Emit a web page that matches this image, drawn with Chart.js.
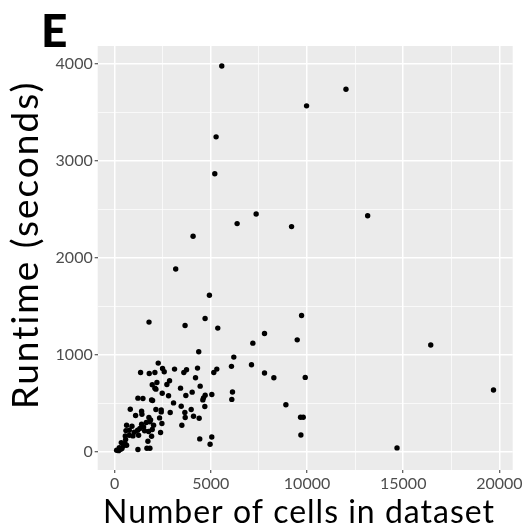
<!DOCTYPE html>
<html>
<head>
<meta charset="utf-8">
<script src="https://cdn.jsdelivr.net/npm/chart.js@4"></script>
<style>
  html, body { margin: 0; padding: 0; background: #fff; }
  #wrap { width: 526px; height: 532px; }
</style>
</head>
<body>
<div id="wrap"><canvas id="chart" width="526" height="532"></canvas></div>
<script>
// values
const cells = [
  5569, 12024, 9976, 5274, 5205, 7356, 13151, 6367, 9196, 4077, 3175, 4927, 9716, 1787, 4702, 3661,
  5361, 7790, 9490, 7183, 16430, 4372, 6194, 7114, 6073, 7790, 8276, 9907, 19692, 6125, 6090, 8901,
  9664, 9803, 9681, 14678, 5049, 4962, 4424,
  2266, 1349, 1799, 2093, 2491, 2578, 3114, 3598, 3737, 4308, 4204, 5155, 5311, 1955, 2197, 2093,
  2145, 2855, 2716, 2474, 3425, 4031, 4446, 3702, 4619, 4585, 4706, 5052, 4688, 2803, 1211, 1471,
  1920, 1972, 3062, 3460, 813, 1401, 2145, 2422, 2422, 2889, 3650, 3979, 3668, 4100, 4394, 1090,
  1419, 1782, 1868, 2336, 2457, 3495, 623, 900, 1401, 1644, 1834, 2024, 1505, 588, 761, 1021,
  1194, 1315, 1557, 1765, 1955, 2387, 554, 761, 951, 1246, 1920, 1730, 571, 346, 536, 623,
  450, 242, 104, 208, 311, 380, 1211, 1678, 1834
];
const runtimes = [
  3982, 3742, 3570, 3250, 2869, 2453, 2436, 2354, 2323, 2223, 1886, 1615, 1405, 1337, 1374, 1302,
  1275, 1220, 1154, 1120, 1100, 1031, 976, 897, 880, 811, 763, 766, 636, 615, 539, 484,
  354, 354, 172, 38, 151, 76, 131,
  914, 817, 807, 817, 859, 824, 852, 817, 845, 862, 762, 817, 852, 690, 714, 655,
  645, 731, 693, 603, 655, 614, 676, 579, 555, 534, 583, 590, 465, 576, 552, 548,
  534, 527, 503, 469, 438, 417, 434, 431, 410, 403, 403, 434, 352, 365, 345, 372,
  386, 352, 328, 348, 290, 272, 272, 262, 283, 300, 307, 272, 255, 217, 221, 200,
  221, 238, 214, 207, 228, 197, 162, 169, 162, 169, 159, 107, 124, 93, 83, 66,
  59, 41, 14, 10, 24, 31, 21, 34, 34
];

const xMajor = [0, 5000, 10000, 15000, 20000];
const xMinor = [2500, 7500, 12500, 17500];
const yMajor = [0, 1000, 2000, 3000, 4000];
const yMinor = [500, 1500, 2500, 3500];

const panelLabel = 'E';
const xTitle = 'Number of cells in dataset';
const yTitle = 'Runtime (seconds)';

const points = cells.map((c, i) => ({x: c, y: runtimes[i]}));

const tickFont = {family: 'Lato', size: 16};
const tickGrey = '#4D4D4D';

function gridFor(major) {
  return {
    color: '#FFFFFF',
    lineWidth: ctx => major.includes(ctx.tick.value) ? 1.5 : 0.7,
    drawTicks: true,
    tickLength: 3,
    tickWidth: 1,
    tickColor: ctx => major.includes(ctx.tick.value) ? '#333333' : 'rgba(0,0,0,0)'
  };
}

// grey panel like ggplot, and text drawn at fixed spots
const panelPlugin = {
  id: 'panel',
  beforeDraw(chart) {
    const {ctx, chartArea: a} = chart;
    ctx.save();
    ctx.fillStyle = '#FFFFFF';
    ctx.fillRect(0, 0, chart.width, chart.height);
    ctx.fillStyle = '#EBEBEB';
    ctx.fillRect(a.left, a.top, a.right - a.left, a.bottom - a.top);
    ctx.restore();
  },
  afterDraw(chart) {
    const ctx = chart.ctx;
    ctx.save();
    ctx.fillStyle = '#000000';
    ctx.textBaseline = 'alphabetic';

    ctx.font = '900 46px Lato';
    ctx.textAlign = 'left';
    ctx.fillText(panelLabel, 41, 47);

    ctx.font = '32px Lato';
    ctx.letterSpacing = '1px';
    ctx.textAlign = 'center';
    ctx.fillText(xTitle, 299, 523);

    ctx.translate(38, 245);
    ctx.rotate(-Math.PI / 2);
    ctx.font = '37px Lato';
    ctx.letterSpacing = '2px';
    ctx.fillText(yTitle, 0, 0);
    ctx.restore();
  }
};

new Chart(document.getElementById('chart'), {
  type: 'scatter',
  data: {
    datasets: [{
      data: points,
      backgroundColor: '#000000',
      borderWidth: 0,
      pointRadius: 2.7,
      pointHoverRadius: 2.7
    }]
  },
  options: {
    responsive: false,
    animation: false,
    events: [],
    layout: {padding: {top: 46, right: 13.3, left: 0, bottom: 0}},
    plugins: {legend: {display: false}, tooltip: {enabled: false}},
    scales: {
      x: {
        type: 'linear',
        min: -880,
        max: 20690,
        border: {display: false},
        grid: gridFor(xMajor),
        afterBuildTicks: s => { s.ticks = xMajor.concat(xMinor).sort((a, b) => a - b).map(v => ({value: v})); },
        afterFit: s => { s.height = 62; },
        ticks: {
          font: tickFont,
          color: tickGrey,
          padding: 1,
          maxRotation: 0,
          autoSkip: false,
          callback: v => xMajor.includes(v) ? String(v) : ''
        }
      },
      y: {
        type: 'linear',
        min: -190,
        max: 4188,
        border: {display: false},
        grid: gridFor(yMajor),
        afterBuildTicks: s => { s.ticks = yMajor.concat(yMinor).sort((a, b) => a - b).map(v => ({value: v})); },
        afterFit: s => { s.width = 97.7; },
        ticks: {
          font: tickFont,
          color: tickGrey,
          padding: 2,
          autoSkip: false,
          callback: v => yMajor.includes(v) ? String(v) : ''
        }
      }
    }
  },
  plugins: [panelPlugin]
});
</script>
</body>
</html>
